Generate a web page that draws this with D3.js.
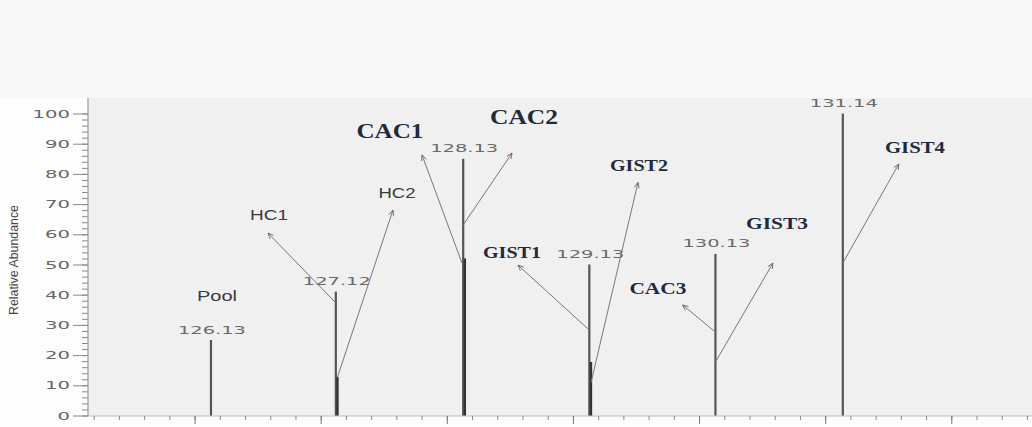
<!DOCTYPE html>
<html>
<head>
<meta charset="utf-8">
<script src="https://cdn.jsdelivr.net/npm/d3@7"></script>
<style>
  html, body { margin: 0; padding: 0; background: #fdfdfd; }
  svg { display: block; }
</style>
</head>
<body>
<div id="chart"></div>
<script>
// reporter ion peaks (m/z, relative abundance)
const peakMz = [126.13, 127.12, 128.13, 129.13, 130.13, 131.14];
const peakAbundance = [25, 41, 85, 50, 53.5, 100];
const peakLabels = ["126.13", "127.12", "128.13", "129.13", "130.13", "131.14"];

// close shoulder peaks drawn next to the main ones
const shoulderMz = [127.133, 128.143, 129.143];
const shoulderAbundance = [12.7, 52, 17.7];

const yTicks = [0, 10, 20, 30, 40, 50, 60, 70, 80, 90, 100];
const xMajorTicks = [126, 127, 128, 129, 130, 131, 132];

// sample annotations: text position and arrow, all in (m/z, abundance)
const annoText = ["Pool", "HC1", "HC2", "CAC1", "CAC2", "GIST1", "GIST2", "CAC3", "GIST3", "GIST4"];
const annoSerif = [false, false, false, true, true, true, true, true, true, true];
const annoMz = [126.178, 126.59, 127.605, 127.549, 128.612, 128.517, 129.524, 129.674, 130.618, 131.712];
const annoAb = [39.6, 66.4, 73.7, 94.2, 98.8, 54.1, 82.9, 42.2, 63.7, 88.9];
const annoWidth = [40, 38, 37, 67, 68, 58, 58, 57, 62, 60];
// arrows: [fromMz, fromAb, toMz, toAb]; Pool has none
const arrowFrom = [null, [127.12, 37.3], [127.133, 12.7], [128.12, 50.5], [128.13, 63.1],
                   [129.13, 28.3], [129.143, 10.8], [130.13, 27.6], [130.13, 17.7], [131.14, 50.5]];
const arrowTo = [null, [126.582, 60.4], [127.573, 68.0], [127.803, 86.3], [128.517, 86.9],
                 [128.564, 49.8], [129.516, 77.2], [129.87, 36.6], [130.586, 50.5], [131.584, 83.3]];

const width = 1032, height = 427;
const plotLeft = 88, plotTop = 98, plotBottom = 416;

const svg = d3.select("#chart").append("svg")
    .attr("width", width)
    .attr("height", height);

svg.append("rect").attr("x", 0).attr("y", 0).attr("width", width).attr("height", plotTop)
    .attr("fill", "#f8f8f8");
svg.append("rect").attr("x", plotLeft).attr("y", plotTop)
    .attr("width", width - plotLeft).attr("height", plotBottom - plotTop)
    .attr("fill", "#f0f0f0");

const x = d3.scaleLinear().domain([125.155, 132.64]).range([plotLeft, width]);
const y = d3.scaleLinear().domain([0, 100]).range([415.5, 113.5]);

const numFont = "'DejaVu Sans', Verdana, sans-serif";

// y axis: minor comb + major ticks
svg.append("g")
    .attr("transform", `translate(${plotLeft},0)`)
    .call(d3.axisLeft(y).tickValues(d3.range(0, 101, 2)).tickSize(6).tickFormat(""))
    .call(g => g.select(".domain").remove())
    .call(g => g.selectAll("line").attr("stroke", "#888"));

const yAxis = svg.append("g")
    .attr("transform", `translate(${plotLeft},0)`)
    .call(d3.axisLeft(y).tickValues(yTicks).tickSize(15).tickPadding(3))
    .call(g => g.select(".domain").remove());
yAxis.selectAll("line").attr("stroke", "#888");
yAxis.selectAll("text")
    .attr("fill", "#666")
    .style("font-family", numFont)
    .style("font-size", "11px")
    .attr("textLength", d => String(d).length * 12.5)
    .attr("lengthAdjust", "spacingAndGlyphs");

svg.append("line")
    .attr("x1", plotLeft).attr("x2", plotLeft)
    .attr("y1", plotTop).attr("y2", plotBottom)
    .attr("stroke", "#999").attr("stroke-width", 1.2);

svg.append("text")
    .attr("transform", `translate(13,${(plotTop + plotBottom) / 2 + 3}) rotate(-90)`)
    .attr("text-anchor", "middle")
    .attr("dominant-baseline", "central")
    .attr("fill", "#444")
    .style("font-family", "'Liberation Sans', Arial, sans-serif")
    .style("font-size", "13px")
    .attr("textLength", 110)
    .attr("lengthAdjust", "spacingAndGlyphs")
    .text("Relative Abundance");

// x axis
svg.append("line")
    .attr("x1", plotLeft).attr("x2", width)
    .attr("y1", plotBottom).attr("y2", plotBottom)
    .attr("stroke", "#bbb");

svg.append("g")
    .attr("transform", `translate(0,${plotBottom})`)
    .call(d3.axisBottom(x).tickValues(d3.range(125.2, 132.61, 0.2)).tickSize(4).tickFormat(""))
    .call(g => g.select(".domain").remove())
    .call(g => g.selectAll("line").attr("stroke", "#888"));

const xAxis = svg.append("g")
    .attr("transform", `translate(0,${plotBottom})`)
    .call(d3.axisBottom(x).tickValues(xMajorTicks).tickSize(8).tickPadding(6).tickFormat(d3.format("d")))
    .call(g => g.select(".domain").remove());
xAxis.selectAll("line").attr("stroke", "#777");
xAxis.selectAll("text")
    .attr("fill", "#666")
    .style("font-family", numFont)
    .style("font-size", "12px")
    .attr("textLength", 36)
    .attr("lengthAdjust", "spacingAndGlyphs");

// peaks
const peaks = peakMz.map((m, i) => ({ m, a: peakAbundance[i], label: peakLabels[i] }));
svg.append("g").selectAll("line")
    .data(peaks)
    .join("line")
    .attr("x1", d => x(d.m)).attr("x2", d => x(d.m))
    .attr("y1", y(0)).attr("y2", d => y(d.a))
    .attr("stroke", "#555").attr("stroke-width", 2.2);

const shoulders = shoulderMz.map((m, i) => ({ m, a: shoulderAbundance[i] }));
svg.append("g").selectAll("line")
    .data(shoulders)
    .join("line")
    .attr("x1", d => x(d.m)).attr("x2", d => x(d.m))
    .attr("y1", y(0)).attr("y2", d => y(d.a))
    .attr("stroke", "#333").attr("stroke-width", 2.4);

svg.append("g").selectAll("text")
    .data(peaks)
    .join("text")
    .attr("x", d => x(d.m) + 1)
    .attr("y", d => y(d.a) - 10)
    .attr("text-anchor", "middle")
    .attr("dominant-baseline", "central")
    .attr("fill", "#6a6a6a")
    .style("font-family", numFont)
    .style("font-size", "11px")
    .attr("textLength", 68)
    .attr("lengthAdjust", "spacingAndGlyphs")
    .text(d => d.label);

// arrows
svg.append("defs").append("marker")
    .attr("id", "arrowhead")
    .attr("viewBox", "0 0 10 10")
    .attr("refX", 9).attr("refY", 5)
    .attr("markerWidth", 7).attr("markerHeight", 7)
    .attr("orient", "auto")
    .append("path")
    .attr("d", "M1,1.5 L9,5 L1,8.5")
    .attr("fill", "none")
    .attr("stroke", "#666")
    .attr("stroke-width", 1.2);

const arrows = arrowFrom.map((f, i) => ({ f, t: arrowTo[i] })).filter(d => d.f);
svg.append("g").selectAll("line")
    .data(arrows)
    .join("line")
    .attr("x1", d => x(d.f[0])).attr("y1", d => y(d.f[1]))
    .attr("x2", d => x(d.t[0])).attr("y2", d => y(d.t[1]))
    .attr("stroke", "#777").attr("stroke-width", 1)
    .attr("marker-end", "url(#arrowhead)");

// annotation labels
const annos = annoText.map((t, i) => ({ t, serif: annoSerif[i], m: annoMz[i], a: annoAb[i], w: annoWidth[i] }));
svg.append("g").selectAll("text")
    .data(annos)
    .join("text")
    .attr("x", d => x(d.m))
    .attr("y", d => y(d.a))
    .attr("text-anchor", "middle")
    .attr("dominant-baseline", "central")
    .attr("fill", d => d.serif ? "#1f2a3c" : "#3a3a3a")
    .style("font-family", d => d.serif ? "'Liberation Serif', 'Times New Roman', serif" : "'Liberation Sans', Arial, sans-serif")
    .style("font-weight", d => d.serif ? "bold" : "normal")
    .style("font-size", d => d.serif ? (d.t.startsWith("CAC") && d.t !== "CAC3" ? "20px" : "17px") : "15px")
    .attr("textLength", d => d.w)
    .attr("lengthAdjust", "spacingAndGlyphs")
    .text(d => d.t);
</script>
</body>
</html>
